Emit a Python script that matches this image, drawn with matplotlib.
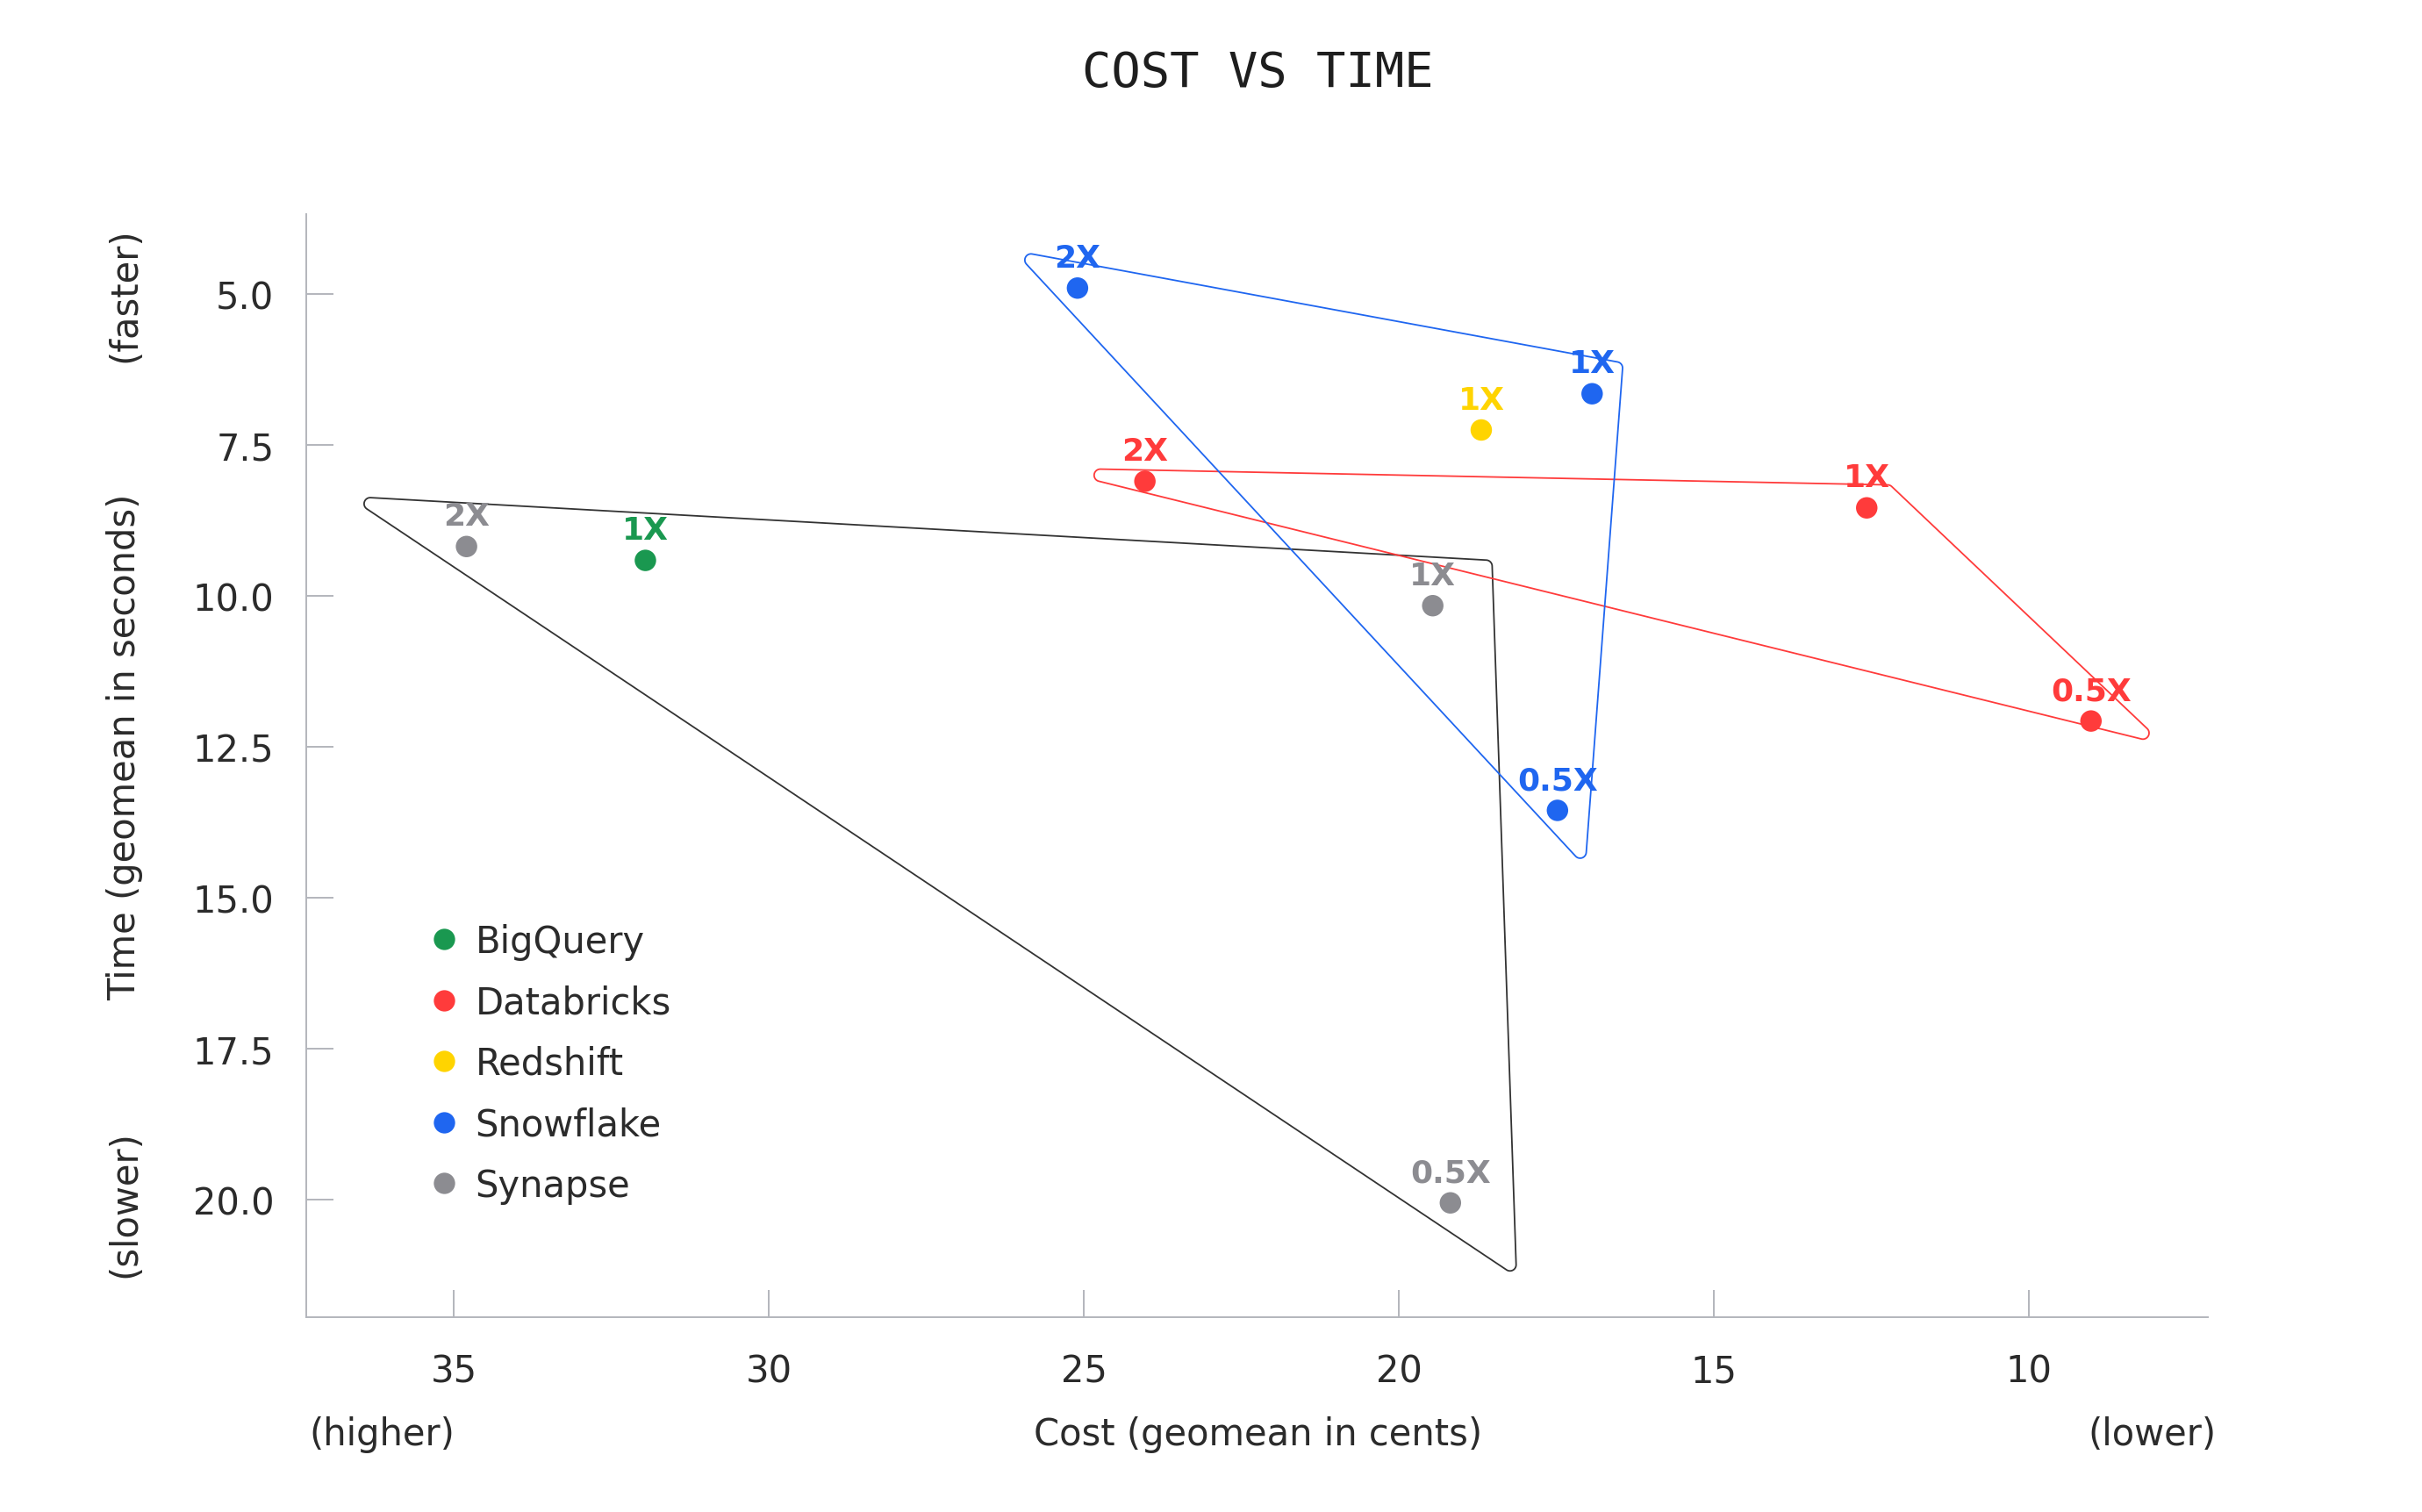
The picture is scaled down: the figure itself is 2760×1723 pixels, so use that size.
import numpy as np
import matplotlib
matplotlib.use("Agg")
import matplotlib.pyplot as plt
from matplotlib.path import Path
from matplotlib.patches import PathPatch
from matplotlib.lines import Line2D

# ---------------- data ----------------
vendors = ["BigQuery", "Databricks", "Redshift", "Snowflake", "Synapse"]
vendor_colors = ["#1a9850", "#ff3b3b", "#ffd400", "#1f66f0", "#8c8c91"]

bigquery_cost = [31.96]
bigquery_time = [9.41]
bigquery_sizes = ["1X"]

databricks_cost = [24.03, 12.57, 9.01]
databricks_time = [8.10, 8.54, 12.07]
databricks_sizes = ["2X", "1X", "0.5X"]

redshift_cost = [18.69]
redshift_time = [7.25]
redshift_sizes = ["1X"]

snowflake_cost = [25.10, 16.93, 17.48]
snowflake_time = [4.90, 6.65, 13.55]
snowflake_sizes = ["2X", "1X", "0.5X"]

synapse_cost = [34.80, 19.46, 19.18]
synapse_time = [9.18, 10.16, 20.05]
synapse_sizes = ["2X", "1X", "0.5X"]

# group outlines (data units)
databricks_hull_cost = [25.61, 12.20, 7.85]
databricks_hull_time = [7.88, 8.16, 12.46]
snowflake_hull_cost = [26.11, 16.44, 17.04]
snowflake_hull_time = [4.28, 6.14, 14.48]
synapse_hull_cost = [36.68, 18.52, 18.13]
synapse_hull_time = [8.35, 9.41, 21.27]

x_ticks = [35, 30, 25, 20, 15, 10]
y_ticks = [5.0, 7.5, 10.0, 12.5, 15.0, 17.5, 20.0]

# ---------------- style ----------------
plt.rcParams["font.family"] = ["DejaVu Sans"]
TEXT = "#2b2b2b"
SPINE = "#b3b6bc"
FS = 30

fig = plt.figure(figsize=(27.6, 17.24), dpi=100)
ax = fig.add_axes([0.1263, 0.1289, 0.7854, 0.7288])
ax.set_xlim(37.35, 7.15)
ax.set_ylim(21.94, 3.68)

for s in ["top", "right"]:
    ax.spines[s].set_visible(False)
for s in ["left", "bottom"]:
    ax.spines[s].set_color(SPINE)
    ax.spines[s].set_linewidth(1.4)

ax.set_xticks(x_ticks)
ax.set_xticklabels([f"{v:d}" for v in x_ticks])
ax.set_yticks(y_ticks)
ax.set_yticklabels([f"{v:.1f}" for v in y_ticks])
ax.tick_params(axis="x", direction="in", length=22, width=1.4, color=SPINE,
               labelsize=FS, labelcolor=TEXT, pad=29)
ax.tick_params(axis="y", direction="in", length=22, width=1.4, color=SPINE,
               labelsize=FS, labelcolor=TEXT, pad=26)


def rounded_outline(xs, ys, radius_px, color):
    pts = ax.transData.transform(np.column_stack([xs, ys]))
    n = len(pts)
    verts = []
    for i in range(n):
        p = pts[i]
        prv = pts[i - 1]
        nxt = pts[(i + 1) % n]
        u1 = (prv - p) / np.linalg.norm(prv - p)
        u2 = (nxt - p) / np.linalg.norm(nxt - p)
        ang = np.arccos(np.clip(np.dot(u1, u2), -1, 1))
        h = ang / 2
        d = radius_px / np.tan(h)
        t1 = p + u1 * d
        t2 = p + u2 * d
        bis = (u1 + u2) / np.linalg.norm(u1 + u2)
        c = p + bis * radius_px / np.sin(h)
        a1 = np.arctan2(*(t1 - c)[::-1])
        a2 = np.arctan2(*(t2 - c)[::-1])
        da = (a2 - a1 + np.pi) % (2 * np.pi) - np.pi
        for t in np.linspace(0, 1, 16):
            a = a1 + da * t
            verts.append(c + radius_px * np.array([np.cos(a), np.sin(a)]))
    verts.append(verts[0])
    data = ax.transData.inverted().transform(np.array(verts))
    codes = [Path.MOVETO] + [Path.LINETO] * (len(data) - 2) + [Path.CLOSEPOLY]
    ax.add_patch(PathPatch(Path(data, codes), fill=False, edgecolor=color,
                           linewidth=1.3, joinstyle="round", zorder=2))


rounded_outline(synapse_hull_cost, synapse_hull_time, 7, "#333333")
rounded_outline(databricks_hull_cost, databricks_hull_time, 7, vendor_colors[1])
rounded_outline(snowflake_hull_cost, snowflake_hull_time, 7, vendor_colors[3])

groups = [
    (bigquery_cost, bigquery_time, bigquery_sizes),
    (databricks_cost, databricks_time, databricks_sizes),
    (redshift_cost, redshift_time, redshift_sizes),
    (snowflake_cost, snowflake_time, snowflake_sizes),
    (synapse_cost, synapse_time, synapse_sizes),
]
for (cx, ty, labs), col in zip(groups, vendor_colors):
    ax.scatter(cx, ty, s=310, color=col, edgecolors="none", zorder=4)
    for x, y, lab in zip(cx, ty, labs):
        ax.annotate(lab, (x, y), xytext=(0, 17.5), textcoords="offset points",
                    ha="center", va="baseline", fontsize=26, fontweight="bold",
                    color=col, zorder=5)

handles = [Line2D([], [], linestyle="none", marker="o", markersize=17.5,
                  markerfacecolor=c, markeredgecolor="none") for c in vendor_colors]
ax.legend(handles, vendors, loc="center left", bbox_to_anchor=(0.066, 0.23),
          frameon=False, fontsize=FS, labelcolor=TEXT, handlelength=0.7,
          handletextpad=0.5, labelspacing=0.66, borderpad=0, borderaxespad=0)

# titles / axis labels
fig.text(0.5193, 0.9515, "COST VS TIME", ha="center", va="center",
         fontsize=40, color="#1e1e1e", family=["DejaVu Sans Mono"])
fig.text(0.0515, 0.506, "Time (geomean in seconds)", rotation=90,
         ha="center", va="center", fontsize=FS, color=TEXT)
fig.text(0.0515, 1 - 189 / 970, "(faster)", rotation=90,
         ha="center", va="center", fontsize=FS, color=TEXT)
fig.text(0.0515, 1 - 772 / 970, "(slower)", rotation=90,
         ha="center", va="center", fontsize=FS, color=TEXT)
fig.text(0.5193, 1 - 920 / 970, "Cost (geomean in cents)",
         ha="center", va="center", fontsize=FS, color=TEXT)
fig.text(198 / 1552, 1 - 920 / 970, "(higher)",
         ha="left", va="center", fontsize=FS, color=TEXT)
fig.text(1420 / 1552, 1 - 920 / 970, "(lower)",
         ha="right", va="center", fontsize=FS, color=TEXT)

fig.savefig("out.png", dpi=100, facecolor="white")
